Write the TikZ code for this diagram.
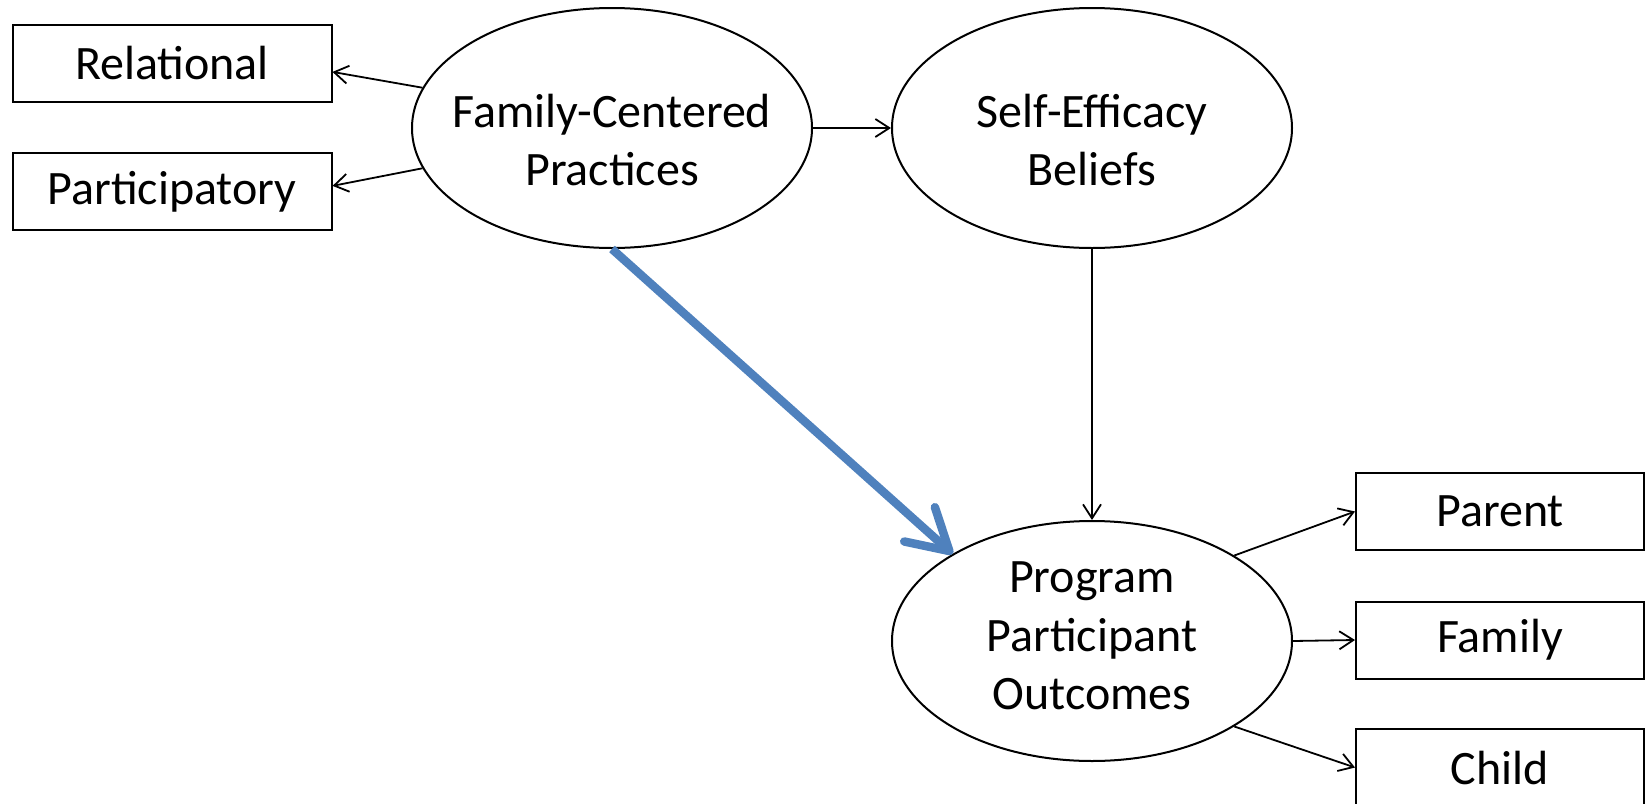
\documentclass[tikz,border=0pt]{standalone}
\usepackage{fontspec}
\setmainfont{Carlito}
\usepackage{tikz}
\usetikzlibrary{shapes.geometric,arrows.meta}
\definecolor{effblue}{RGB}{79,129,189}

\begin{document}
\begin{tikzpicture}[x=0.5pt,y=-0.5pt,
  every node/.style={font=\fontsize{24pt}{29.2pt}\selectfont},
  box/.style={draw,line width=1pt,minimum width=159.5pt,minimum height=38.5pt,inner sep=0pt},
  outbox/.style={box,minimum width=144pt},
  latent/.style={draw,ellipse,line width=1pt,minimum width=200pt,minimum height=120pt,inner sep=0pt},
  label text/.style={align=center,inner sep=0pt},
  link/.style={line width=0.9pt,-{Straight Barb[length=7pt,width=9pt]}},
  mainlink/.style={line width=4.25pt,color=effblue,-{Straight Barb[length=20pt,width=23pt,round]}}]
  \useasboundingbox (0,0) rectangle (1646,804);
  \node[latent] (fcp) at (612,128) {};
  \node[latent] (seb) at (1092,128) {};
  \node[latent] (ppo) at (1092,641) {};
  \node[label text] (fcptext) at ([yshift=-6pt]fcp.center) {Family-Centered\\Practices};
  \node[label text] (sebtext) at ([yshift=-6pt]seb.center) {Self-Efficacy\\Beliefs};
  \node[label text] (ppotext) at ([yshift=2.5pt]ppo.center) {Program\\Participant\\Outcomes};
  \node[box] (rel) at (172,63.5) {Relational};
  \node[box] (part) at (172,191.5) {Participatory};
  \node[outbox] (parent) at (1500,511.5) {Parent};
  \node[outbox] (family) at (1500,640) {Family};
  \node[outbox] (child) at (1500,767.5) {Child};
  \draw[link] (fcp.168) -- (rel.-3);
  \draw[link] (fcp.192) -- (part.2);
  \draw[link] (fcp.east) -- (seb.west);
  \draw[link] (seb.south) -- (ppo.north);
  \draw[link] (ppo.31) -- (parent.west);
  \draw[link] (ppo.east) -- (family.west);
  \draw[link] (ppo.-31) -- (child.west);
  \draw[mainlink] (fcp.south) -- (ppo.148);
\end{tikzpicture}
\end{document}
